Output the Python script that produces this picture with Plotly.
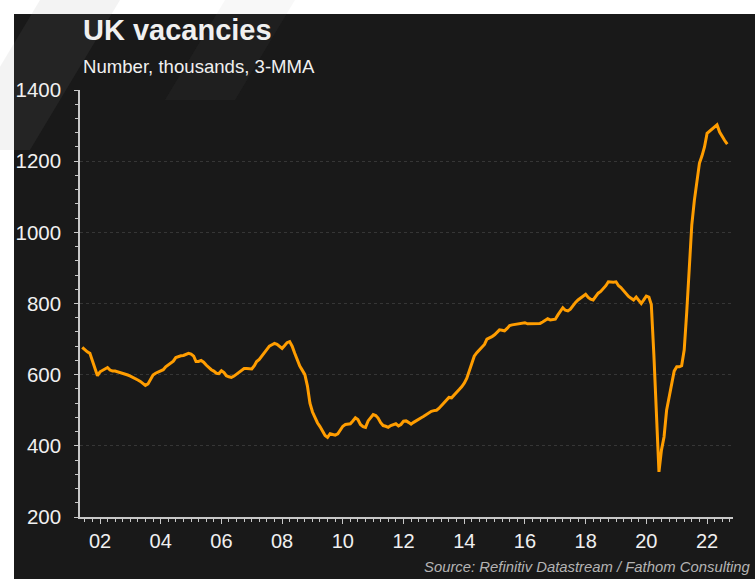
import pandas as pd
import plotly.graph_objects as go

# ---------------- data (monthly, 3-month moving average, thousands) ----------------
start_month = "2001-06-01"
v2001 = [677, 670, 664, 660, 640, 620, 597]                       # Jun-Dec
v2002 = [608, 612, 614, 620, 613, 610, 610, 608, 607, 605, 603, 599]
v2003 = [596, 593, 588, 585, 581, 576, 570, 574, 588, 599, 604, 608]
v2004 = [610, 614, 622, 628, 633, 638, 648, 651, 653, 654, 657, 660]
v2005 = [658, 652, 637, 637, 640, 635, 627, 620, 614, 610, 604, 603]
v2006 = [611, 606, 597, 594, 592, 596, 601, 606, 610, 617, 617, 617]
v2007 = [616, 625, 637, 643, 652, 660, 670, 680, 684, 688, 685, 680]
v2008 = [674, 682, 690, 693, 680, 660, 640, 624, 612, 600, 568, 520]
v2009 = [495, 477, 465, 454, 440, 429, 424, 434, 432, 430, 434, 445]
v2010 = [455, 460, 461, 462, 470, 479, 474, 460, 454, 452, 470, 480]
v2011 = [488, 485, 478, 465, 457, 455, 452, 457, 460, 462, 456, 460]
v2012 = [469, 470, 466, 461, 466, 471, 474, 479, 483, 488, 492, 497]
v2013 = [499, 500, 505, 513, 520, 528, 536, 535, 542, 550, 558, 566]
v2014 = [576, 590, 608, 630, 652, 662, 670, 677, 685, 700, 703, 707]
v2015 = [712, 720, 726, 725, 723, 730, 738, 740, 741, 742, 744, 746]
v2016 = [746, 743, 743, 743, 744, 744, 744, 748, 752, 757, 754, 755]
v2017 = [756, 768, 776, 788, 781, 779, 784, 795, 803, 810, 816, 822]
v2018 = [826, 817, 812, 810, 819, 829, 834, 841, 850, 861, 860, 860]
v2019 = [861, 850, 845, 836, 828, 820, 815, 810, 818, 808, 800, 810]
v2020 = [821, 818, 797, 655, 500, 327, 388, 425, 500, 535, 570, 610]
v2021 = [622, 622, 625, 670, 775, 905, 1020, 1090, 1140, 1194, 1215, 1240]
v2022 = [1278, 1284, 1290, 1296, 1302, 1282, 1268, 1258, 1248]  # Jan-Sep

vacancies = (v2001 + v2002 + v2003 + v2004 + v2005 + v2006 + v2007 + v2008 +
             v2009 + v2010 + v2011 + v2012 + v2013 + v2014 + v2015 + v2016 +
             v2017 + v2018 + v2019 + v2020 + v2021 + v2022)
dates = pd.date_range(start_month, periods=len(vacancies), freq="MS")

title_text = "UK vacancies"
subtitle_text = "Number, thousands, 3-MMA"
source_text = "Source: Refinitiv Datastream / Fathom Consulting"

# ---------------- layout helpers (pixel -> paper) ----------------
W, H = 755, 579
L, R, T, B = 80, 733, 90, 517


def px(x):
    return (x - L) / (R - L)


def py(y):
    return (B - y) / (B - T)


FONT = "Liberation Sans, Arial, Helvetica, sans-serif"
TXT = "#f0f0f0"
AXC = "#c8c8c8"
BG = "#191919"

fig = go.Figure()
fig.add_trace(go.Scatter(
    x=dates, y=vacancies, mode="lines",
    line=dict(color="#ff9d00", width=3),
    hoverinfo="skip", showlegend=False,
))


def poly(points):
    d = "M " + " L ".join(f"{px(a):.5f},{py(b):.5f}" for a, b in points) + " Z"
    return d


shapes = [
    # dark panel
    dict(type="rect", xref="paper", yref="paper",
         x0=px(14), x1=px(W + 2), y0=py(H + 2), y1=py(14),
         fillcolor=BG, line=dict(width=0), layer="below"),
    # faint watermark stripes
    dict(type="path", xref="paper", yref="paper",
         path=poly([(40, 0), (120, 0), (30, 150), (-50, 150)]),
         fillcolor="rgba(140,140,140,0.10)", line=dict(width=0), layer="below"),
    dict(type="path", xref="paper", yref="paper",
         path=poly([(225, 0), (295, 0), (235, 100), (165, 100)]),
         fillcolor="rgba(140,140,140,0.06)", line=dict(width=0), layer="below"),
]

annotations = [
    dict(text=f"<b>{title_text}</b>", xref="paper", yref="paper",
         x=px(81), y=py(30), xanchor="left", yanchor="middle",
         showarrow=False, font=dict(family=FONT, size=29, color=TXT)),
    dict(text=subtitle_text, xref="paper", yref="paper",
         x=px(81), y=py(67), xanchor="left", yanchor="middle",
         showarrow=False, font=dict(family=FONT, size=18.6, color=TXT)),
    dict(text=f"<i>{source_text}</i>", xref="paper", yref="paper",
         x=px(753), y=py(567), xanchor="right", yanchor="middle",
         showarrow=False, font=dict(family=FONT, size=14.85, color="#b4b4b4")),
]

fig.update_layout(
    width=W, height=H,
    margin=dict(l=L, r=W - R, t=T, b=H - B, pad=0),
    paper_bgcolor="white",
    plot_bgcolor=BG,
    font=dict(family=FONT, color=TXT),
    shapes=shapes,
    annotations=annotations,
    showlegend=False,
    xaxis=dict(
        type="date",
        range=["2001-05-05", "2022-11-09"],
        tick0="2002-01-01", dtick="M24", tickformat="%y",
        ticks="outside", ticklen=5, tickwidth=1, tickcolor=AXC,
        showline=True, linecolor=AXC, linewidth=1.5,
        showgrid=False, zeroline=False,
        tickfont=dict(family=FONT, size=20, color=TXT),
        minor=dict(tick0="2002-01-01", dtick="M3", ticks="outside",
                   ticklen=3, tickcolor=AXC, showgrid=False),
    ),
    yaxis=dict(
        range=[200, 1400], tick0=200, dtick=200,
        ticks="outside", ticklen=4, tickwidth=1, tickcolor=AXC,
        showline=True, linecolor=AXC, linewidth=1.5,
        showgrid=True, gridcolor="#363636", griddash="dot", gridwidth=1,
        zeroline=False,
        ticklabelstandoff=9,
        tickfont=dict(family=FONT, size=20.5, color=TXT),
        minor=dict(dtick=40, ticks="outside", ticklen=3, tickcolor=AXC,
                   showgrid=False),
    ),
)

fig.write_html(
    "out.html",
    config={"displayModeBar": False},
    post_script="document.body.style.margin='0';document.body.style.overflow='hidden';",
)
